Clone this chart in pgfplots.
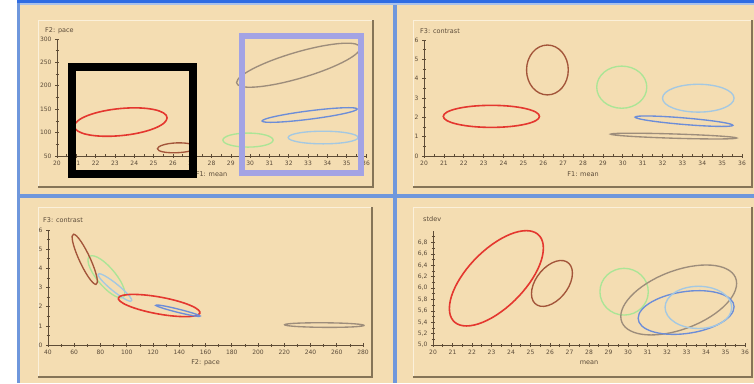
\documentclass[border=0pt]{standalone}
\usepackage{fontspec}
\setmainfont{DejaVu Sans}
\usepackage{pgfplots}
\pgfplotsset{compat=1.18}
\definecolor{tanbg}{HTML}{F4DDB2}
\definecolor{frameblue}{HTML}{6F97DC}
\definecolor{topblue}{HTML}{2F6CE3}
\definecolor{boxdark}{HTML}{857457}
\definecolor{boxlight}{HTML}{FBF0DA}
\definecolor{axc}{HTML}{5E4C36}
\definecolor{txc}{HTML}{5A4A38}
\definecolor{cred}{HTML}{E4372F}
\definecolor{cbrown}{HTML}{A3553A}
\definecolor{cgreen}{HTML}{ABE596}
\definecolor{cgrey}{HTML}{9D8D7B}
\definecolor{cblue}{HTML}{6C8DD8}
\definecolor{clblue}{HTML}{A4C8E2}
\definecolor{lav}{HTML}{A3A3E4}
\tikzset{lab/.style={font=\fontsize{6.5}{7.5}\selectfont, text=txc, inner sep=0pt}}
\pgfplotsset{
  panel/.style={
    scale only axis, clip=false, anchor=south west,
    axis lines=left, axis line style={-, draw=axc, line width=0.8pt},
    tick align=center, major tick length=4pt, minor tick length=3pt,
    every tick/.style={draw=axc, line width=0.6pt},
    minor tick num=1,
    tick label style={font=\fontsize{6}{7}\selectfont, text=txc},
    /pgf/number format/assume math mode=true,
  },
  ell/.style={smooth cycle, tension=1, line width=1.35pt, mark=none},
}
\begin{document}
\begin{tikzpicture}[x=1pt,y=1pt]
% frame
\fill[white] (0,0) rectangle (754,383);
\fill[tanbg] (17,0) rectangle (754,378);
\fill[topblue] (17,380) rectangle (754,383);
\fill[frameblue!60] (17,378) rectangle (754,380);
\fill[frameblue] (17,0) rectangle (20,380);
\fill[frameblue] (393,0) rectangle (397,378);
\fill[frameblue] (20,185) rectangle (754,189);
% inner boxes
\foreach \xa/\ya/\xb/\yb in {38/196/373/363, 413/196/752/363, 38/6/372/176, 413/6/752/176}{
  \draw[boxlight, line width=0.8pt] (\xa,\ya) -- (\xa,\yb) -- (\xb,\yb);
  \draw[boxdark, line width=1.8pt] (\xa,\ya) -- (\xb,\ya) -- (\xb,\yb);
}

% Panel 1: mean vs pace
\begin{axis}[panel, at={(57pt,227pt)}, width=309pt, height=117pt,
  xmin=20, xmax=36, ymin=50, ymax=300,
  xtick={20,21,...,36}, ytick={50,100,...,300}]
\addplot[ell, cred, line width=1.6pt] coordinates {(25.7,131.5) (23.3,151.5) (20.9,113.5) (23.3,93.5)};
\addplot[ell, cbrown] coordinates {(27.2,68.5) (26.2,78) (25.2,65.5) (26.2,57)};
\addplot[ell, cgrey] coordinates {(35.7,281) (32.5,273) (29.3,207) (32.5,215)};
\addplot[ell, cblue] coordinates {(35.54,150.4) (33.08,146.6) (30.62,124.8) (33.08,128.6)};
\addplot[ell, clblue] coordinates {(35.59,89.5) (33.78,103) (31.97,89.5) (33.78,76)};
\addplot[ell, cgreen] coordinates {(31.19,84) (29.89,99) (28.59,84) (29.89,69)};
\node[lab, anchor=south west] at (rel axis cs:0,1) [xshift=-12pt, yshift=5pt] {F2: pace};
\node[lab] at (rel axis cs:0.5,0) [yshift=-18pt] {F1: mean};
\end{axis}
% overlay boxes
\begin{axis}[scale only axis, hide axis, clip=false, anchor=south west,
  at={(57pt,227pt)}, width=309pt, height=117pt,
  xmin=20, xmax=36, ymin=50, ymax=300]
\addplot[black, line width=8pt, line cap=rect, line join=miter, mark=none]
  coordinates {(20.80,12.6) (27.04,12.6) (27.04,240.2) (20.80,240.2) (20.80,12.6)};
\addplot[lav, line width=6pt, line cap=rect, line join=miter, mark=none]
  coordinates {(29.56,14.7) (35.75,14.7) (35.75,305.8) (29.56,305.8) (29.56,14.7)};
\end{axis}

% Panel 2: mean vs contrast
\begin{axis}[panel, at={(424pt,227pt)}, width=318pt, height=116pt,
  xmin=20, xmax=36, ymin=0, ymax=6,
  xtick={20,21,...,36}, ytick={0,1,...,6}]
\addplot[ell, cred, line width=1.6pt] coordinates {(25.81,2.05) (23.39,2.62) (20.97,2.05) (23.39,1.48)};
\addplot[ell, cbrown] coordinates {(27.26,4.45) (26.21,5.74) (25.16,4.45) (26.21,3.16)};
\addplot[ell, cgreen] coordinates {(31.21,3.56) (29.95,4.65) (28.69,3.56) (29.95,2.47)};
\addplot[ell, clblue] coordinates {(35.6,2.99) (33.8,3.71) (32.0,2.99) (33.8,2.27)};
\addplot[ell, cblue] coordinates {(35.54,1.59) (33.08,1.97) (30.62,2.01) (33.08,1.63)};
\addplot[ell, cgrey] coordinates {(35.73,0.93) (32.56,1.14) (29.39,1.13) (32.56,0.92)};
\node[lab, anchor=south west] at (rel axis cs:0,1) [xshift=-4pt, yshift=6pt] {F3: contrast};
\node[lab] at (rel axis cs:0.5,0) [yshift=-18pt] {F1: mean};
\end{axis}

% Panel 3: pace vs contrast
\begin{axis}[panel, at={(48pt,38pt)}, width=315pt, height=115pt,
  xmin=40, xmax=280, ymin=0, ymax=6,
  xtick={40,60,...,280}, ytick={0,1,...,6}]
\addplot[ell, cgreen] coordinates {(93.2,3.56) (73.5,4.66) (75.8,3.56) (95.5,2.46)};
\addplot[ell, clblue] coordinates {(95.5,3.0) (79,3.72) (86.5,3.0) (103,2.28)};
\addplot[ell, cbrown] coordinates {(72.5,4.47) (59.5,5.78) (63.5,4.47) (76.5,3.16)};
\addplot[ell, cred, line width=1.6pt] coordinates {(148.7,2.06) (105,2.64) (100.7,2.06) (144.4,1.48)};
\addplot[ell, cblue] coordinates {(144,1.79) (122.8,2.09) (134,1.79) (155.2,1.49)};
\addplot[ell, cgrey] coordinates {(280.5,1.04) (246.5,1.16) (220.5,1.04) (254.5,0.92)};
\node[lab, anchor=south west] at (rel axis cs:0,1) [xshift=-5pt, yshift=7pt] {F3: contrast};
\node[lab] at (rel axis cs:0.5,0) [yshift=-18pt] {F2: pace};
\end{axis}

% Panel 4: mean vs stdev
\begin{axis}[panel, at={(433pt,38pt)}, width=312pt, height=114pt,
  xmin=20, xmax=36, ymin=5, ymax=7,
  xtick={20,21,...,36}, ytick={5,5.2,...,6.8}, minor ytick={5.1,5.3,...,6.9},
  minor tick num=0, minor xtick={20.5,21.5,...,35.5},
  yticklabel style={/pgf/number format/.cd, fixed, fixed zerofill, precision=1, use comma}]
\addplot[ell, cred, line width=1.6pt] coordinates {(25.66,6.70) (23.25,6.815) (20.84,5.64) (23.25,5.525)};
\addplot[ell, cbrown] coordinates {(27.15,6.26) (26.1,6.44) (25.05,5.90) (26.1,5.72)};
\addplot[ell, cgreen] coordinates {(31.04,5.935) (29.8,6.345) (28.56,5.935) (29.8,5.525)};
\addplot[ell, cgrey] coordinates {(35.57,6.08) (32.6,6.33) (29.63,5.50) (32.6,5.25)};
\addplot[ell, cblue] coordinates {(35.44,5.67) (32.98,5.94) (30.52,5.47) (32.98,5.20)};
\addplot[ell, clblue] coordinates {(35.32,5.66) (33.61,6.03) (31.90,5.66) (33.61,5.29)};
\node[lab, anchor=south west] at (rel axis cs:0,1) [xshift=-10pt, yshift=9pt] {stdev};
\node[lab] at (rel axis cs:0.5,0) [yshift=-18pt] {mean};
\end{axis}
\pgfresetboundingbox
\useasboundingbox (0,0) rectangle (754,383);
\end{tikzpicture}
\end{document}
